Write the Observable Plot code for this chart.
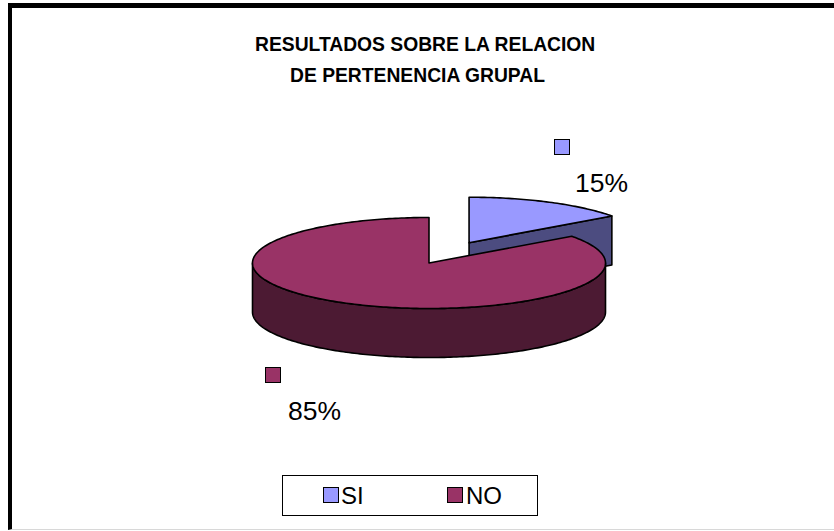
<!DOCTYPE html>
<html>
<head>
<meta charset="utf-8">
<script src="https://cdn.jsdelivr.net/npm/d3@7"></script>
<script src="https://cdn.jsdelivr.net/npm/@observablehq/plot@0.6"></script>
<style>
html, body { margin: 0; padding: 0; background: #fff; }
#wrap { position: relative; width: 834px; height: 531px; overflow: hidden; font-family: "Liberation Sans", Arial, sans-serif; color: #000; }
#chart { position: absolute; left: 0; top: 0; }
#frame { position: absolute; left: 8px; top: 3px; width: 900px; height: 527px; box-sizing: border-box;
  border-top: 5px solid #000; border-left: 4px solid #000; border-bottom: 1px solid #d8d8d8; pointer-events: none; }
.t { position: absolute; white-space: pre; line-height: 1; }
.title { font-weight: bold; font-size: 19.3px; }
.pct { font-size: 26.5px; }
.key { position: absolute; box-sizing: border-box; border: 1.5px solid #000; }
#legend { position: absolute; left: 282px; top: 475px; width: 256px; height: 41px; box-sizing: border-box; border: 1px solid #000; background: #fff; }
.lg { font-size: 24px; }
</style>
</head>
<body>
<div id="wrap">
  <div id="chart"></div>
  <div id="frame"></div>
</div>
<script>
// ---- data ----
const titleLines = ["RESULTADOS SOBRE LA RELACION", "DE PERTENENCIA GRUPAL"];
const categories = ["SI", "NO"];
const values = [15, 85];
const topColors = ["#9999FF", "#993366"];
const sideColors = ["#4C4C80", "#4C1A33"];
const exploded = [true, false];

// ---- layout (pixels) ----
const W = 834, H = 531;
const CX = 428.5, CY = 262.5, RX = 176.5, RY = 45.5, DEPTH = 49, EXPLODE = 0.5;

const total = d3.sum(values);
const rad = d => d * Math.PI / 180;
let acc = 0;
const slices = categories.map((c, i) => {
  const start = acc / total * 360;
  acc += values[i];
  const end = acc / total * 360;
  const mid = (start + end) / 2;
  const ox = exploded[i] ? EXPLODE * Math.sin(rad(mid)) : 0;
  const oy = exploded[i] ? EXPLODE * Math.cos(rad(mid)) : 0;
  return {c, i, start, end, mid, ox, oy, pct: Math.round(values[i] / total * 100) + "%"};
});

const d = DEPTH / RY; // depth in y units (y up, 1 unit = RY px)
function rim(s, a, bottom) {
  return {x: s.ox + Math.sin(rad(a)), y: s.oy + Math.cos(rad(a)) - (bottom ? d : 0)};
}
function arc(s, a0, a1, bottom) {
  const pts = [];
  const n = Math.max(2, Math.ceil(Math.abs(a1 - a0)));
  for (let k = 0; k <= n; k++) pts.push(rim(s, a0 + (a1 - a0) * k / n, bottom));
  return pts;
}

const polys = [];
// back slices first
const order = [...slices].sort((a, b) => b.oy - a.oy);
for (const s of order) {
  const c = {x: s.ox, y: s.oy}, cb = {x: s.ox, y: s.oy - d};
  if (Math.sin(rad(s.start)) < -1e-6)
    polys.push({pts: [c, rim(s, s.start), rim(s, s.start, true), cb], fill: sideColors[s.i]});
  if (Math.sin(rad(s.end)) > 1e-6)
    polys.push({pts: [c, rim(s, s.end), rim(s, s.end, true), cb], fill: sideColors[s.i]});
  const a0 = Math.max(s.start, 90), a1 = Math.min(s.end, 270);
  if (a1 > a0)
    polys.push({pts: [...arc(s, a0, a1), ...arc(s, a1, a0, true)], fill: sideColors[s.i]});
  polys.push({pts: [c, ...arc(s, s.start, s.end)], fill: topColors[s.i]});
}

const chart = Plot.plot({
  width: W, height: H, margin: 0,
  style: {background: "transparent"},
  x: {domain: [(0 - CX) / RX, (W - CX) / RX], axis: null},
  y: {domain: [(CY - H) / RY, (CY - 0) / RY], axis: null},
  marks: polys.map(p => Plot.line(p.pts, {
    x: "x", y: "y", fill: p.fill, stroke: "#000", strokeWidth: 1.6,
    strokeLinejoin: "round", curve: "linear-closed"
  }))
});
document.getElementById("chart").appendChild(chart);

// ---- texts (HTML overlay) ----
const wrap = document.getElementById("wrap");
function addText(txt, cls, left, top) {
  const el = document.createElement("div");
  el.className = "t " + cls; el.textContent = txt;
  el.style.left = left + "px"; el.style.top = top + "px";
  wrap.appendChild(el); return el;
}
function addKey(color, left, top, size, parent) {
  const el = document.createElement("div");
  el.className = "key"; el.style.background = color;
  el.style.left = left + "px"; el.style.top = top + "px";
  el.style.width = size + "px"; el.style.height = size + "px";
  (parent || wrap).appendChild(el); return el;
}
addText(titleLines[0], "title", 255, 35);
addText(titleLines[1], "title", 290, 66);

const labelLayout = [
  {key: [554, 139], text: [575, 170]},
  {key: [265, 367], text: [288, 398]}
];
slices.forEach((s, i) => {
  addKey(topColors[i], labelLayout[i].key[0], labelLayout[i].key[1], 16);
  addText(s.pct, "pct", labelLayout[i].text[0], labelLayout[i].text[1]);
});

const legend = document.createElement("div");
legend.id = "legend"; wrap.insertBefore(legend, document.getElementById("frame"));
const legendLayout = [{key: 40, text: 58}, {key: 164, text: 183}];
categories.forEach((c, i) => {
  addKey(topColors[i], legendLayout[i].key, 11, 16, legend);
  const t = document.createElement("div");
  t.className = "t lg"; t.textContent = c;
  t.style.left = legendLayout[i].text + "px"; t.style.top = "8px";
  legend.appendChild(t);
});
</script>
</body>
</html>
